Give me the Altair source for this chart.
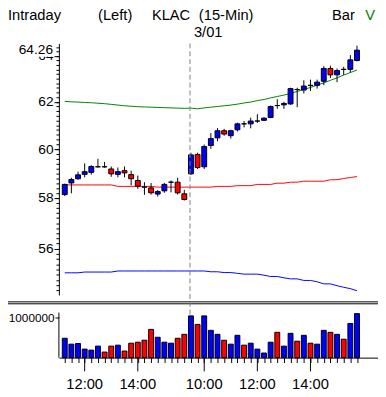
import altair as alt
import pandas as pd

# ---------------- data ----------------
opens = [58.14, 58.61, 58.78, 58.96, 59.04, 59.27, 59.27, 59.18, 58.96, 59.11,
         58.95, 58.71, 58.44, 58.41, 58.16, 58.29, 58.64, 58.64, 58.17,
         58.98, 59.78, 59.27, 60.15, 60.47, 60.77, 60.56, 60.81, 61.06, 61.06,
         61.18, 61.21, 61.33, 61.84, 61.87, 61.91, 62.53, 62.51, 62.71, 62.71,
         62.89, 63.45, 63.17, 63.41, 63.41, 63.80]
highs = [58.58, 58.82, 59.07, 59.41, 59.34, 59.60, 59.47, 59.28, 59.24, 59.28,
         59.11, 58.91, 58.64, 58.61, 58.32, 58.61, 58.71, 58.82, 58.33,
         59.85, 59.85, 60.19, 60.67, 60.88, 60.85, 60.81, 61.11, 61.18, 61.32,
         61.47, 61.34, 61.84, 62.11, 62.00, 62.61, 62.61, 62.93, 62.96, 62.96,
         63.55, 63.57, 63.45, 63.52, 64.04, 64.46]
lows = [58.08, 58.19, 58.74, 58.84, 58.95, 59.24, 59.23, 58.86, 58.84, 58.84,
        58.51, 58.37, 58.13, 58.14, 58.06, 58.21, 58.23, 58.14, 57.90,
        58.94, 59.18, 59.18, 60.01, 60.33, 60.56, 60.44, 60.74, 60.91, 60.87,
        61.10, 61.19, 61.30, 61.70, 61.70, 61.87, 61.77, 62.36, 62.47, 62.57,
        62.72, 63.03, 62.85, 63.17, 63.27, 63.76]
closes = [58.55, 58.75, 58.94, 59.07, 59.28, 59.27, 59.27, 58.98, 59.07, 59.02,
          58.78, 58.48, 58.44, 58.21, 58.26, 58.55, 58.64, 58.21, 57.94,
          59.76, 59.24, 60.11, 60.44, 60.77, 60.63, 60.77, 61.06, 61.06, 61.18,
          61.18, 61.30, 61.80, 61.84, 61.93, 62.57, 62.53, 62.68, 62.71, 62.85,
          63.45, 63.17, 63.36, 63.41, 63.83, 64.26]
volumes = [483000, 336000, 352000, 213000, 188000, 287000, 139000, 287000, 311000, 164000,
           360000, 385000, 434000, 704000, 508000, 385000, 360000, 483000, 581000,
           1040000, 827000, 1040000, 680000, 581000, 434000, 336000, 557000, 311000, 360000,
           213000, 115000, 385000, 631000, 287000, 606000, 410000, 557000, 360000, 336000,
           680000, 631000, 581000, 459000, 852000, 1097000]
vol_dir = ["u", "u", "u", "u", "u", "u", "d", "d", "u", "d",
           "d", "d", "d", "d", "u", "u", "u", "d", "d",
           "u", "d", "u", "u", "u", "d", "u", "u", "d", "u",
           "u", "u", "u", "d", "u", "u", "d", "u", "d", "u",
           "u", "d", "u", "d", "u", "u"]
upper = [62.02, 62.00, 61.99, 61.97, 61.96, 61.94, 61.92, 61.89, 61.86, 61.83,
         61.81, 61.79, 61.78, 61.77, 61.76, 61.75, 61.74, 61.73, 61.72,
         61.73, 61.70, 61.74, 61.77, 61.80, 61.83, 61.86, 61.90, 61.95, 61.99,
         62.05, 62.10, 62.17, 62.23, 62.29, 62.36, 62.45, 62.53, 62.62, 62.72,
         62.82, 62.93, 63.04, 63.16, 63.27, 63.38]
middle = [58.53, 58.53, 58.53, 58.53, 58.53, 58.53, 58.53, 58.53, 58.47, 58.47,
          58.47, 58.47, 58.47, 58.47, 58.44, 58.44, 58.44, 58.44, 58.44,
          58.44, 58.44, 58.44, 58.44, 58.47, 58.47, 58.47, 58.50, 58.50, 58.50,
          58.55, 58.55, 58.55, 58.60, 58.60, 58.64, 58.64, 58.68, 58.68, 58.68,
          58.68, 58.74, 58.74, 58.79, 58.83, 58.87]
lower = [55.07, 55.07, 55.07, 55.10, 55.10, 55.10, 55.10, 55.10, 55.14, 55.14,
         55.14, 55.14, 55.14, 55.14, 55.14, 55.14, 55.14, 55.14, 55.14,
         55.14, 55.14, 55.14, 55.11, 55.11, 55.08, 55.08, 55.05, 55.02, 55.02,
         55.02, 54.98, 54.93, 54.93, 54.88, 54.84, 54.84, 54.78, 54.78, 54.73,
         54.65, 54.65, 54.58, 54.52, 54.47, 54.39]

time_tick_idx = [3, 11, 21, 29, 37]
time_tick_labels = ["12:00", "14:00", "10:00", "12:00", "14:00"]
price_ticks = [56, 58, 60, 62, 64]
price_minor_ticks = [round(54.4 + 0.2 * k, 1) for k in range(52)]
volume_ticks = [1000000]
day_break = [18.86]
day_label = ["3/01"]
last_price_label = ["64.26"]

# ---------------- tables ----------------
n = len(opens)
df = pd.DataFrame({
    "idx": list(range(n)), "open": opens, "high": highs, "low": lows, "close": closes,
    "volume": volumes, "vdir": vol_dir, "upper": upper, "middle": middle, "lower": lower,
})
ticks_df = pd.DataFrame({"idx": time_tick_idx, "lab": time_tick_labels})
brk_df = pd.DataFrame({"idx": day_break, "lab": day_label})
one = pd.DataFrame({"lab": last_price_label})

FONT = "Liberation Sans"
BLUE, RED, GREEN = "#0000ff", "#ff0000", "#008000"
W, H = 326, 321

xscale = alt.Scale(domain=[-1 / 7, (W - 1) / 7], nice=False, zero=False)
xaxis = alt.Axis(values=list(range(n)), labels=False, tickSize=5, tickColor="black",
                 domainColor="black", title=None, grid=False)
X = alt.X("idx:Q", scale=xscale, axis=xaxis)

pscale = alt.Scale(type="log", domain=[54.23, 64.56], range=[257, 0], nice=False)
pmajor = alt.Axis(values=price_ticks, orient="left", format="d", tickSize=5, labelFontSize=14,
                  labelFont=FONT, labelColor="black", tickColor="black", domainColor="black",
                  title=None, grid=False, labelPadding=1)
pminor = alt.Axis(values=price_minor_ticks, orient="left", labels=False, tickSize=3,
                  tickColor="black", domain=False, title=None, grid=False)
vscale = alt.Scale(domain=[0, 1341000], range=[321, 266], nice=False, zero=True)
vaxis = alt.Axis(values=volume_ticks, orient="left", format="d", tickSize=4, labelFontSize=12,
                 labelFont=FONT, labelColor="black", tickColor="black", domain=False,
                 title=None, grid=False, labelPadding=1)

base = alt.Chart(df)

bands = alt.layer(
    base.mark_line(color=GREEN, strokeWidth=1).encode(x=X, y=alt.Y("upper:Q", scale=pscale, axis=pminor)),
    base.mark_line(color=RED, strokeWidth=1).encode(x=X, y=alt.Y("middle:Q", scale=pscale, axis=pminor)),
    base.mark_line(color=BLUE, strokeWidth=1).encode(x=X, y=alt.Y("lower:Q", scale=pscale, axis=pminor)),
)

body_fill = alt.when(alt.datum.close > alt.datum.open).then(alt.value(BLUE)).otherwise(alt.value(RED))
candles = alt.layer(
    base.mark_rule(color="black", strokeWidth=1).encode(
        x=X, y=alt.Y("low:Q", scale=pscale, axis=pmajor), y2="high:Q"),
    base.mark_bar(size=5, stroke="black", strokeWidth=1).encode(
        x=X, y=alt.Y("open:Q", scale=pscale, axis=pmajor), y2="close:Q", fill=body_fill),
)

vol_fill = alt.when(alt.datum.vdir == "u").then(alt.value(BLUE)).otherwise(alt.value(RED))
vol = base.mark_bar(size=5, stroke="black", strokeWidth=1).encode(
    x=X, y=alt.Y("volume:Q", scale=vscale, axis=vaxis), fill=vol_fill)

dummy = alt.Chart(pd.DataFrame({"a": [0]}))
sep1 = dummy.mark_rule(color="black", strokeWidth=1).encode(x=alt.value(-52), x2=alt.value(W), y=alt.value(264))
sep2 = dummy.mark_rule(color="black", strokeWidth=1).encode(x=alt.value(-52), x2=alt.value(W), y=alt.value(266))
vol_axis_line = dummy.mark_rule(color="black", strokeWidth=1).encode(
    x=alt.value(0), y=alt.value(275), y2=alt.value(H))

dashed = alt.Chart(brk_df).mark_rule(color="#808080", strokeWidth=1, strokeDash=[5, 3]).encode(
    x=X, y=alt.value(0), y2=alt.value(278))
day_txt = alt.Chart(brk_df).mark_text(align="left", baseline="alphabetic", dx=4, fontSize=15,
                                      font=FONT, color="black").encode(x=X, y=alt.value(-7), text="lab:N")

major_ticks = alt.Chart(ticks_df).mark_rule(color="black", strokeWidth=1).encode(
    x=X, y=alt.value(H), y2=alt.value(H + 14))
major_labels = alt.Chart(ticks_df).mark_text(baseline="alphabetic", fontSize=15, font=FONT,
                                             color="black").encode(x=X, y=alt.value(H + 32), text="lab:N")

cover = dummy.mark_rect(color="white").encode(x=alt.value(-50), x2=alt.value(-6),
                                              y=alt.value(0), y2=alt.value(13.5))
last_txt = alt.Chart(one).mark_text(align="right", baseline="middle", fontSize=14, font=FONT,
                                    color="black").encode(x=alt.value(-6), y=alt.value(6.5), text="lab:N")


def header(txt, xpos, color="black"):
    return dummy.mark_text(align="left", baseline="alphabetic", fontSize=15, font=FONT,
                           color=color, text=txt).encode(x=alt.value(xpos), y=alt.value(-24))


headers = [header("Intraday", -52), header("(Left)", 40), header("KLAC", 95),
           header("(15-Min)", 143), header("Bar", 279), header("V", 313, GREEN)]

chart = alt.layer(
    bands, candles, vol, sep1, sep2, vol_axis_line, dashed, day_txt, major_ticks, major_labels,
    cover, last_txt, *headers
).resolve_scale(y="independent").properties(
    width=W, height=H,
    padding={"left": 52, "top": 32, "right": 0, "bottom": 36},
    autosize=alt.AutoSizeParams(type="none"),
    background="white",
).configure_view(stroke=None)

chart.save("out.html", embed_options={"renderer": "svg", "actions": False})
